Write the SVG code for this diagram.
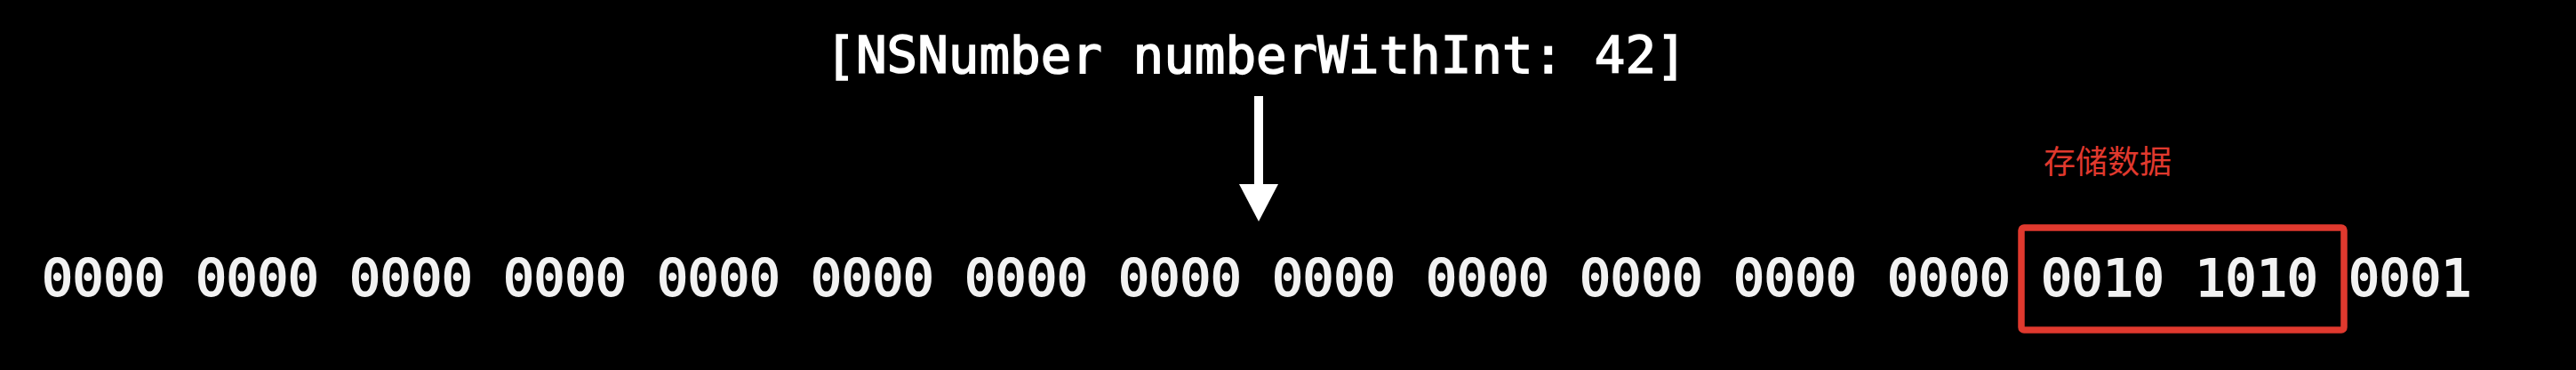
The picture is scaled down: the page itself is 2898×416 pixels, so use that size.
<svg xmlns="http://www.w3.org/2000/svg" width="2898" height="416" viewBox="0 0 2898 416">
<defs>
<style>
.mono{font-family:"DejaVu Sans Mono","Liberation Mono",monospace;font-size:57.5px;fill:#ffffff;stroke:#ffffff;stroke-width:1.6px;text-anchor:middle}
.bits{font-family:"DejaVu Sans Mono","Liberation Mono",monospace;font-size:57.5px;fill:#f2f2f2;stroke:#f2f2f2;stroke-width:2px;text-anchor:middle}
.label{font-family:"Noto Sans CJK SC","Noto Sans",sans-serif;font-size:36px;fill:#e0392e}
.arrow{stroke:#ffffff;stroke-width:10}
.box{fill:none;stroke:#e0392e;stroke-width:7.5}
</style>
</defs>
<rect x="0" y="0" width="2898" height="416" fill="#000000"/>
<g id="call">
<text class="mono" x="1413" y="82">[NSNumber numberWithInt: 42]</text>
</g>
<g id="connectors">
<line class="arrow" x1="1416" y1="108" x2="1416" y2="210"/>
<path d="M1394,207 L1438,207 L1416,249 Z" fill="#ffffff"/>
</g>
<g id="bits">
<text class="bits" x="116.5" y="333">0000</text>
<text class="bits" x="289.5" y="333">0000</text>
<text class="bits" x="462.5" y="333">0000</text>
<text class="bits" x="635.5" y="333">0000</text>
<text class="bits" x="808.5" y="333">0000</text>
<text class="bits" x="981.5" y="333">0000</text>
<text class="bits" x="1154.5" y="333">0000</text>
<text class="bits" x="1327.5" y="333">0000</text>
<text class="bits" x="1500.5" y="333">0000</text>
<text class="bits" x="1673.5" y="333">0000</text>
<text class="bits" x="1846.5" y="333">0000</text>
<text class="bits" x="2019.5" y="333">0000</text>
<text class="bits" x="2192.5" y="333">0000</text>
<text class="bits" x="2365.5" y="333">0010</text>
<text class="bits" x="2538.5" y="333">1010</text>
<text class="bits" x="2711.5" y="333">0001</text>
</g>
<g id="storage">
<rect class="box" x="2274" y="256" width="363" height="115" rx="3"/>
<text class="label" x="2299" y="195">存储数据</text>
</g>
</svg>
